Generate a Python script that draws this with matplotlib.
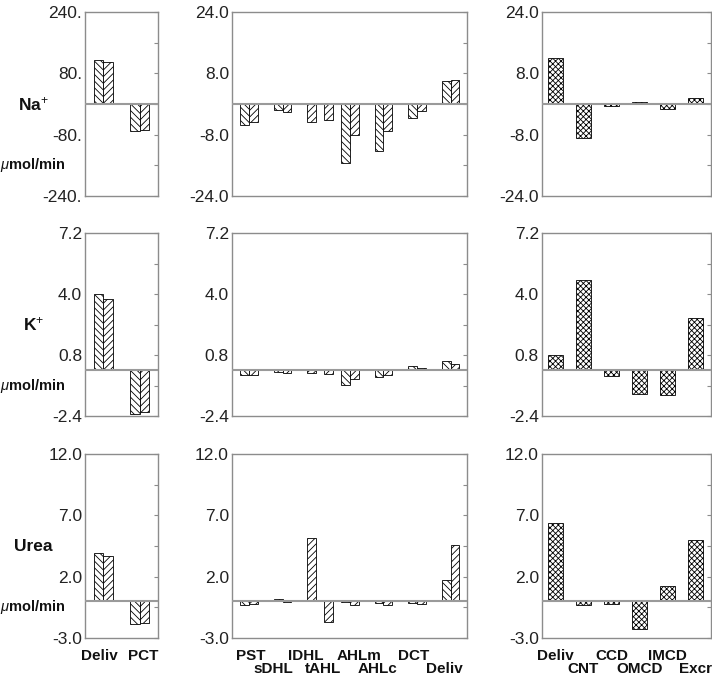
"""Fluxos de Na+, K+ e ureia por segmento do néfron (µmol/min), três colunas de painéis."""
import numpy as np
import matplotlib
matplotlib.use("Agg")
import matplotlib.pyplot as plt

plt.rcParams["font.family"] = ["Liberation Sans", "DejaVu Sans"]
plt.rcParams["mathtext.fontset"] = "custom"
plt.rcParams["mathtext.rm"] = "Liberation Sans"
plt.rcParams["mathtext.it"] = "Liberation Sans:italic"
plt.rcParams["mathtext.bf"] = "Liberation Sans:bold"
plt.rcParams["hatch.linewidth"] = 0.6
plt.rcParams["hatch.color"] = "black"

nan = np.nan

# ── categorias ──
left_cats = ["Deliv", "PCT"]
mid_cats = ["PST", "sDHL", "IDHL", "tAHL", "AHLm", "AHLc", "DCT", "Deliv"]
right_cats = ["Deliv", "CNT", "CCD", "OMCD", "IMCD", "Excr"]

# ── valores (série 1 = "\\", série 2 = "//") ──
na_left_1 = [114, -70]
na_left_2 = [109, -69]
k_left_1 = [3.99, -2.29]
k_left_2 = [3.75, -2.19]
urea_left_1 = [3.94, -1.85]
urea_left_2 = [3.72, -1.77]

na_mid_1 = [-5.6, -1.65, nan, nan, -15.3, -12.3, -3.7, 5.9]
na_mid_2 = [-4.8, -2.0, -4.6, -4.2, -8.0, -7.0, -1.9, 6.2]
k_mid_1 = [-0.26, -0.10, nan, nan, -0.79, -0.37, 0.25, 0.49]
k_mid_2 = [-0.26, -0.16, -0.16, -0.21, -0.44, -0.25, 0.12, 0.33]
urea_mid_1 = [-0.30, 0.19, nan, nan, -0.05, -0.16, -0.14, 1.77]
urea_mid_2 = [-0.22, -0.05, 5.19, -1.71, -0.30, -0.30, -0.22, 4.62]

na_right = [12.0, -8.8, -0.6, 0.43, -1.3, 1.48]
k_right = [0.82, 4.73, -0.30, -1.23, -1.31, 2.77]
urea_right = [6.39, -0.30, -0.22, -2.23, 1.28, 5.03]

# ── eixos y ──
na_left_ylim = (-240, 240)
na_ylim = (-24, 24)
k_ylim = (-2.4, 7.2)
urea_ylim = (-3.0, 12.0)
na_left_ticklabels = ["240.", "", "80.", "", "-80.", "", "-240."]
na_ticklabels = ["24.0", "", "8.0", "", "-8.0", "", "-24.0"]
k_ticklabels = ["7.2", "", "4.0", "", "0.8", "", "-2.4"]
urea_ticklabels = ["12.0", "", "7.0", "", "2.0", "", "-3.0"]

row_labels = ["Na$^{+}$", "K$^{+}$", "Urea"]

# layout
W = 0.26
left_slots = [0, 1]
mid_slots = [0, 1, 1.74, 2.24, 3, 4, 5, 6]
left_label_x = [-0.1, 1.1]
mid_label_x = [0.06, 0.71, 1.69, 2.2, 3.27, 3.83, 4.9, 5.82]
SPINE = "#8c8c8c"
ZERO = "#9a9a9a"
ROWLAB_X = -0.71          # centro dos rótulos de linha, em fração do painel esquerdo

fig = plt.figure(figsize=(7.12, 6.81), dpi=100)
row_box = [(0.7122, 0.2702), (0.3891, 0.2683), (0.0631, 0.2702)]
col_box = [(0.1194, 0.1025), (0.3254, 0.3305), (0.7608, 0.2371)]


def style(ax, ylim, labels):
    ax.set_ylim(*ylim)
    ax.set_yticks(np.linspace(ylim[1], ylim[0], 7))
    ax.set_yticklabels(labels)
    ax.tick_params(axis="y", left=False, right=True, direction="in", length=3,
                   color=SPINE, labelsize=12.5, labelcolor="#222222", pad=2)
    ax.set_xticks([])
    for s in ax.spines.values():
        s.set_color(SPINE); s.set_linewidth(1.0)
    ax.axhline(0, color=ZERO, lw=1.5, zorder=5)


def pair(ax, slots, v1, v2):
    x = np.asarray(slots, float)
    ax.bar(x - W / 2, v1, W, hatch="\\\\\\\\\\", facecolor="white", edgecolor="black", lw=0.6)
    ax.bar(x + W / 2, v2, W, hatch="/////", facecolor="white", edgecolor="black", lw=0.6)


def cat_labels(ax, xs, names, alternate):
    for i, (x, n) in enumerate(zip(xs, names)):
        y = -0.17 if (alternate and i % 2) else -0.095
        ax.text(x, y, n, transform=ax.get_xaxis_transform(), ha="center", va="center",
                fontsize=11, fontweight="bold", color="#111111")


rows = [
    (na_left_1, na_left_2, na_mid_1, na_mid_2, na_right, na_left_ylim, na_ylim,
     na_left_ticklabels, na_ticklabels),
    (k_left_1, k_left_2, k_mid_1, k_mid_2, k_right, k_ylim, k_ylim,
     k_ticklabels, k_ticklabels),
    (urea_left_1, urea_left_2, urea_mid_1, urea_mid_2, urea_right, urea_ylim, urea_ylim,
     urea_ticklabels, urea_ticklabels),
]

for r, (l1, l2, m1, m2, rv, lylim, ylim, ltl, tl) in enumerate(rows):
    b, h = row_box[r]
    axl = fig.add_axes([col_box[0][0], b, col_box[0][1], h])
    axm = fig.add_axes([col_box[1][0], b, col_box[1][1], h])
    axr = fig.add_axes([col_box[2][0], b, col_box[2][1], h])

    pair(axl, left_slots, l1, l2)
    axl.set_xlim(-0.5, 1.5)
    style(axl, lylim, ltl)

    pair(axm, mid_slots, m1, m2)
    axm.set_xlim(-0.515, 6.485)
    style(axm, ylim, tl)

    axr.bar(np.arange(len(right_cats)), rv, 0.51, hatch="xxxxxx", facecolor="white",
            edgecolor="black", lw=0.6)
    axr.set_xlim(-0.49, 5.54)
    style(axr, ylim, tl)

    # rótulo da linha e unidade, à esquerda do primeiro painel
    axl.text(ROWLAB_X, 0.5, row_labels[r], transform=axl.transAxes, ha="center", va="center",
             fontsize=12.5, fontweight="bold", color="#111111")
    axl.text(ROWLAB_X, 1 / 6, r"$\mu$mol/min", transform=axl.transAxes, ha="center",
             va="center", fontsize=10.5, fontweight="bold", color="#111111")

    if r == 2:
        cat_labels(axl, left_label_x, left_cats, alternate=False)
        cat_labels(axm, mid_label_x, mid_cats, alternate=True)
        cat_labels(axr, np.arange(len(right_cats)), right_cats, alternate=True)

fig.savefig("out.png", dpi=100)
